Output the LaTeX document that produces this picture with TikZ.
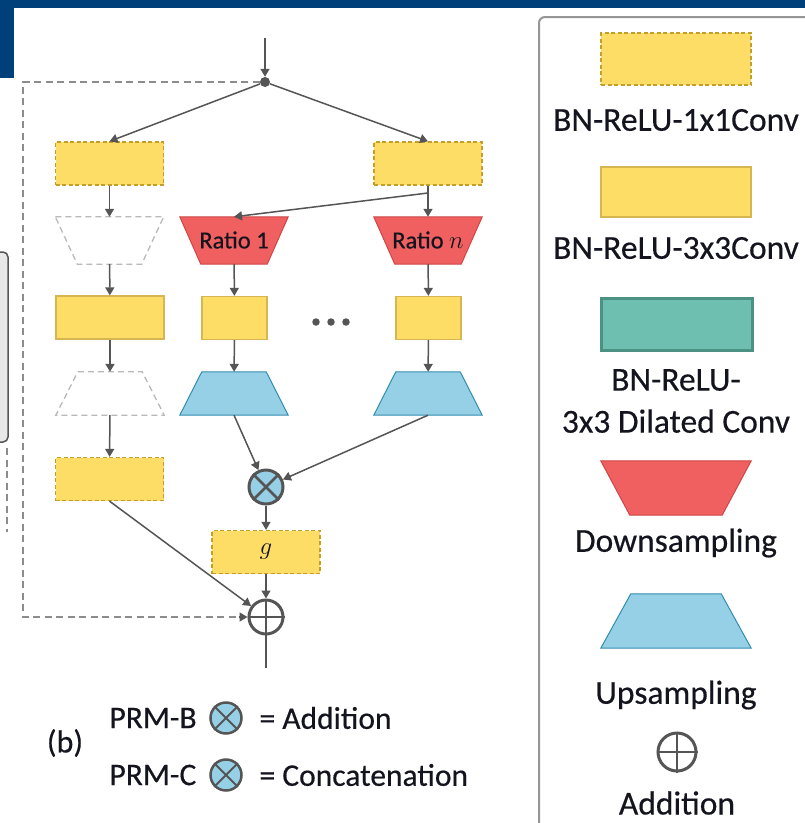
\documentclass[tikz,border=0pt]{standalone}
\usepackage{fontspec}
\setmainfont[FakeBold=0.4]{Carlito}
\usetikzlibrary{arrows.meta,calc}
\definecolor{band}{RGB}{0,64,122}
\definecolor{conv}{RGB}{253,221,102}
\definecolor{convline}{RGB}{214,182,80}
\definecolor{convdash}{RGB}{196,158,40}
\definecolor{down}{RGB}{240,96,96}
\definecolor{downline}{RGB}{205,70,70}
\definecolor{up}{RGB}{150,208,230}
\definecolor{upline}{RGB}{50,140,175}
\definecolor{dil}{RGB}{111,191,177}
\definecolor{dilline}{RGB}{75,145,132}
\definecolor{wire}{RGB}{85,85,85}
\definecolor{skipc}{RGB}{140,140,140}
\definecolor{ghost}{RGB}{185,185,185}
\definecolor{frame}{RGB}{150,150,150}
\definecolor{ink}{RGB}{20,20,30}

% trapezoids drawn over an invisible frame node
\newcommand\trapdown[3]{\path[#2] (#1.north west) -- (#1.north east) -- ([xshift=-#3]#1.south east) -- ([xshift=#3]#1.south west) -- cycle;}
\newcommand\trapup[3]{\path[#2] ([xshift=#3]#1.north west) -- ([xshift=-#3]#1.north east) -- (#1.south east) -- (#1.south west) -- cycle;}

\begin{document}
\begin{tikzpicture}[x=1pt,y=-1pt, text=ink,
  flow/.style={draw=wire, line width=1.5pt, -{Triangle[length=8pt,width=9pt]}},
  plain/.style={draw=wire, line width=1.5pt},
  skipline/.style={draw=skipc, line width=2pt, dash pattern=on 7pt off 4.5pt},
  onebyone/.style={draw=convdash, fill=conv, line width=1.3pt, dash pattern=on 4pt off 2.5pt,
    minimum width=108pt, minimum height=43pt, inner sep=0pt},
  threebythree/.style={draw=convline, fill=conv, line width=1.3pt,
    minimum width=108pt, minimum height=43pt, inner sep=0pt},
  slot/.style={minimum width=108pt, minimum height=47pt, inner sep=0pt},
  downfill/.style={fill=down, draw=downline, line width=1pt},
  upfill/.style={fill=up, draw=upline, line width=1pt},
  ghostline/.style={draw=ghost, line width=1.3pt, dash pattern=on 6pt off 4pt},
  mulop/.style={circle, fill=up, draw=wire, line width=3pt, minimum size=34pt, inner sep=0pt},
  addop/.style={circle, fill=white, draw=wire, line width=3pt, minimum size=34pt, inner sep=0pt},
  ratio/.style={font=\fontsize{24.5}{26}\selectfont},
  legtext/.style={font=\fontsize{33.5}{42}\selectfont, align=center},
  captext/.style={font=\fontsize{31.5}{33}\selectfont, anchor=west}
]
\useasboundingbox (0,0) rectangle (805,823);
\clip (0,0) rectangle (805,823);

% page header band
\fill[band] (0,0) rectangle (805,8);
\fill[band] (0,0) rectangle (14,78);

% neighbouring panel at the left edge
\draw[fill=gray!18, draw=wire, line width=1.5pt, rounded corners=5pt] (-20,252) rectangle (8,442);
\draw[skipline] (7,448) -- (7,532);

% ---------- main block ----------
\coordinate (in) at (265,38);
\node[circle, fill=wire, minimum size=10pt, inner sep=0pt] (split) at (265,82) {};
\coordinate (skipTop) at (23,82);
\coordinate (skipBot) at (23,617);

% left (identity-resolution) column
\node[onebyone] (c1) at (109.5,163.5) {};
\node[slot] (g1) at (109.5,240.5) {};
\trapdown{g1}{ghostline}{22pt}
\node[threebythree] (c2) at (110,317.5) {};
\node[slot, minimum height=43pt] (g2) at (110,393.5) {};
\trapup{g2}{ghostline}{22pt}
\node[onebyone] (c3) at (109.5,479) {};

% pyramid branches
\node[onebyone] (r1) at (428,163.5) {};
\coordinate (tap) at (428,193);
\node[slot] (d1) at (234,240.5) {};
\trapdown{d1}{downfill}{21pt}
\node[ratio] (d1text) at (234,240) {Ratio 1};
\node[slot] (dn) at (428,240.5) {};
\trapdown{dn}{downfill}{21pt}
\node[ratio] (dntext) at (428,240) {Ratio $n$};

\node[threebythree, minimum width=65pt] (s1) at (234.5,318) {};
\node[threebythree, minimum width=65pt] (sn) at (428.5,318) {};

\node[slot, minimum height=43pt] (u1) at (234,393.5) {};
\trapup{u1}{upfill}{22pt}
\node[slot, minimum height=43pt] (un) at (428,393.5) {};
\trapup{un}{upfill}{22pt}

\foreach \i/\x in {a/316,b/331,c/346}
  \node[circle, fill=wire, minimum size=7.5pt, inner sep=0pt] (dot\i) at (\x,322) {};

\node[mulop] (mul) at (266,487) {};
\draw[wire, line width=2.5pt] (mul.north west) -- (mul.south east) (mul.north east) -- (mul.south west);
\node[onebyone, font=\fontsize{27}{28}\selectfont] (gnode) at (266,552) {$g$};
\node[addop] (add) at (266,617) {};
\draw[wire, line width=2.5pt] (add.north) -- (add.south) (add.west) -- (add.east);
\coordinate (out) at (266,668);

% connectors
\draw[flow] (in) -- (split);
\draw[flow] (split) -- (c1.north);
\draw[flow] (split) -- (r1.north);
\draw[flow] (c1) -- (g1);
\draw[flow] (g1) -- (c2);
\draw[flow] (c2) -- (g2);
\draw[flow] (g2) -- (c3);
\draw[flow] (c3.south) -- (add);
\draw[flow] (r1) -- (dn);
\draw[flow] (tap) -- (d1.north);
\draw[flow] (d1) -- (s1);
\draw[flow] (dn) -- (sn);
\draw[flow] (s1) -- (u1);
\draw[flow] (sn) -- (un);
\draw[flow] (u1.south) -- (mul);
\draw[flow] (un.south) -- (mul);
\draw[flow] (mul) -- (gnode);
\draw[flow] (gnode) -- (add);
\draw[plain] (add) -- (out);
\draw[skipline] (split) -- (skipTop) -- (skipBot) -- ($(add.west)+(-8,0)$);
\draw[flow] ($(add.west)+(-9,0)$) -- (add.west);

% caption
\node[font=\fontsize{32}{33}\selectfont] (blabel) at (65,743) {(b)};
\node[captext] (prmb) at (106,718) {PRM-B};
\node[mulop, minimum size=31pt, line width=2.5pt] (mulb) at (226,718) {};
\draw[wire, line width=2pt] (mulb.north west) -- (mulb.south east) (mulb.north east) -- (mulb.south west);
\node[captext] (addtext) at (256,718) {= Addition};
\node[captext] (prmc) at (106,775) {PRM-C};
\node[mulop, minimum size=31pt, line width=2.5pt] (mulc) at (226,775) {};
\draw[wire, line width=2pt] (mulc.north west) -- (mulc.south east) (mulc.north east) -- (mulc.south west);
\node[captext] (cattext) at (256,775) {= Concatenation};

% ---------- legend ----------
\draw[draw=frame, line width=2pt, rounded corners=6pt] (539,17) rectangle (850,870);
\node[onebyone, minimum width=150pt, minimum height=52pt] (L1) at (676,59) {};
\node[legtext] (T1) at (676,120) {BN-ReLU-1x1Conv};
\node[threebythree, minimum width=150pt, minimum height=50pt] (L2) at (676,192) {};
\node[legtext] (T2) at (676,248) {BN-ReLU-3x3Conv};
\node[draw=dilline, fill=dil, line width=3pt, minimum width=151pt, minimum height=52pt, inner sep=0pt] (L3) at (676.5,324) {};
\node[legtext] (T3) at (676,401) {BN-ReLU-\\3x3 Dilated Conv};
\node[slot, minimum width=150pt, minimum height=54pt] (L4) at (676,488) {};
\trapdown{L4}{downfill}{29pt}
\node[legtext] (T4) at (676,543) {Downsampling};
\node[slot, minimum width=150pt, minimum height=54pt] (L5) at (676,621) {};
\trapup{L5}{upfill}{30pt}
\node[legtext] (T5) at (676,695) {Upsampling};
\node[addop, minimum size=38pt] (L6) at (677,752) {};
\draw[wire, line width=2.5pt] (L6.north) -- (L6.south) (L6.west) -- (L6.east);
\node[legtext] (T6) at (677,803) {Addition};
\end{tikzpicture}
\end{document}
